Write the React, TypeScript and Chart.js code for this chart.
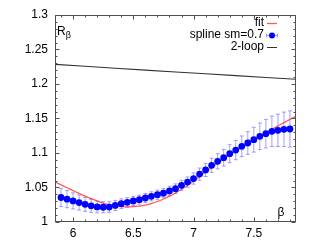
import React, { useEffect, useRef } from 'react';
import { Chart, registerables } from 'chart.js';

Chart.register(...registerables);

// ---- data ----
const splineBeta = [
  5.9, 5.95, 6.0, 6.05, 6.1, 6.15, 6.2, 6.25, 6.3, 6.35, 6.4, 6.45, 6.5, 6.55, 6.6, 6.65, 6.7, 6.75, 6.8, 6.85,
  6.9, 6.95, 7.0, 7.05, 7.1, 7.15, 7.2, 7.25, 7.3, 7.35, 7.4, 7.45, 7.5, 7.55, 7.6, 7.65, 7.7, 7.75, 7.8,
];
const splineR = [
  1.0355, 1.0331, 1.0306, 1.0282, 1.0256, 1.0234, 1.0219, 1.0214, 1.0217, 1.024, 1.0266, 1.0285, 1.0306, 1.0324,
  1.0348, 1.0372, 1.0396, 1.0418, 1.045, 1.0483, 1.0532, 1.0578, 1.063, 1.0694, 1.0754, 1.0821, 1.088, 1.0932,
  1.099, 1.1043, 1.1097, 1.1145, 1.1193, 1.1242, 1.128, 1.1314, 1.1329, 1.1343, 1.1348,
];
const splineErr = [
  0.013, 0.0124, 0.0117, 0.011, 0.0102, 0.0094, 0.0087, 0.0081, 0.0077, 0.0073, 0.007, 0.0068, 0.0066, 0.0066,
  0.0066, 0.0066, 0.0067, 0.0068, 0.0069, 0.007, 0.0072, 0.0075, 0.0082, 0.0088, 0.0095, 0.0102, 0.011, 0.012,
  0.013, 0.014, 0.015, 0.0165, 0.018, 0.0193, 0.0207, 0.022, 0.0235, 0.025, 0.0262,
];
const fitBeta = [
  5.85, 5.9, 5.95, 6.0, 6.05, 6.1, 6.15, 6.2, 6.25, 6.3, 6.35, 6.4, 6.45, 6.5, 6.55, 6.6, 6.65, 6.7, 6.75, 6.8,
  6.85, 6.9, 6.95, 7.0, 7.05, 7.1, 7.15, 7.2, 7.25, 7.3, 7.35, 7.4, 7.45, 7.5, 7.55, 7.6, 7.65, 7.7, 7.75, 7.8, 7.85,
];
const fitR = [
  1.0582, 1.0538, 1.0496, 1.0455, 1.0414, 1.0375, 1.0338, 1.0304, 1.0275, 1.0251, 1.0233, 1.0222, 1.0217, 1.0222,
  1.0231, 1.0246, 1.0268, 1.0297, 1.0333, 1.0374, 1.0421, 1.0474, 1.0532, 1.0594, 1.0659, 1.0725, 1.079, 1.0853,
  1.0914, 1.0972, 1.1028, 1.1082, 1.1135, 1.1188, 1.124, 1.1292, 1.1342, 1.1392, 1.144, 1.1487, 1.1533,
];
const loopBeta = [5.85, 6.35, 6.85, 7.35, 7.85];
const loopR = [1.2285, 1.2228, 1.2175, 1.2122, 1.2068];

const xTicks = [6, 6.5, 7, 7.5];
const xTickLabels = ['6', '6.5', '7', '7.5'];
const yTicks = [1, 1.05, 1.1, 1.15, 1.2, 1.25, 1.3];
const yTickLabels = ['1', '1.05', '1.1', '1.15', '1.2', '1.25', '1.3'];
const legendLabels = ['fit', 'spline sm=0.7', '2-loop'];

const FONT = '"Liberation Sans", Arial, Helvetica, sans-serif';
const ERR_COLOR = 'rgba(120,120,250,0.7)';
const POINT_COLOR = '#0000ff';
const FIT_COLOR = 'rgba(255,60,60,0.85)';
const LOOP_COLOR = '#333333';

const decor = {
  id: 'decor',
  beforeDatasetsDraw(chart: any) {
    const { ctx, scales } = chart;
    const x = scales.x;
    const y = scales.y;
    ctx.save();
    ctx.strokeStyle = ERR_COLOR;
    ctx.lineWidth = 1;
    splineBeta.forEach((b, i) => {
      const px = x.getPixelForValue(b);
      const y1 = y.getPixelForValue(splineR[i] + splineErr[i]);
      const y2 = y.getPixelForValue(splineR[i] - splineErr[i]);
      ctx.beginPath();
      ctx.moveTo(px, y1);
      ctx.lineTo(px, y2);
      ctx.moveTo(px - 2, y1);
      ctx.lineTo(px + 2, y1);
      ctx.moveTo(px - 2, y2);
      ctx.lineTo(px + 2, y2);
      ctx.stroke();
    });
    ctx.restore();
  },
  afterDatasetsDraw(chart: any) {
    const { ctx, chartArea, scales } = chart;
    const x = scales.x;
    const y = scales.y;
    const L = Math.round(chartArea.left) + 0.5;
    const R = Math.round(chartArea.right) - 0.5;
    const T = Math.round(chartArea.top) + 0.5;
    const B = Math.round(chartArea.bottom) - 0.5;
    ctx.save();
    ctx.strokeStyle = '#505050';
    ctx.lineWidth = 1;
    ctx.strokeRect(L, T, R - L, B - T);
    // ticks
    ctx.beginPath();
    for (let v = 5.9; v < 7.851; v += 0.1) {
      const px = Math.round(x.getPixelForValue(v)) + 0.5;
      const major = xTicks.some((t) => Math.abs(t - v) < 1e-6);
      const len = major ? 4 : 2;
      ctx.moveTo(px, B);
      ctx.lineTo(px, B - len);
      ctx.moveTo(px, T);
      ctx.lineTo(px, T + len);
    }
    for (let v = 1.0; v < 1.3001; v += 0.01) {
      const py = Math.round(y.getPixelForValue(v)) + 0.5;
      const major = yTicks.some((t) => Math.abs(t - v) < 1e-6);
      const len = major ? 4 : 2;
      ctx.moveTo(L, py);
      ctx.lineTo(L + len, py);
      ctx.moveTo(R, py);
      ctx.lineTo(R - len, py);
    }
    ctx.stroke();

    // legend
    ctx.font = '12px ' + FONT;
    ctx.fillStyle = '#000';
    ctx.textAlign = 'right';
    ctx.textBaseline = 'middle';
    const rows = [23, 35, 47];
    legendLabels.forEach((t, i) => ctx.fillText(t, 264, rows[i]));
    // fit sample
    ctx.strokeStyle = FIT_COLOR;
    ctx.lineWidth = 1.3;
    ctx.beginPath();
    ctx.moveTo(267, rows[0] + 0.5);
    ctx.lineTo(277, rows[0] + 0.5);
    ctx.stroke();
    // spline sample
    ctx.lineWidth = 1;
    ctx.strokeStyle = ERR_COLOR;
    ctx.beginPath();
    ctx.moveTo(266, rows[1] + 0.5);
    ctx.lineTo(278, rows[1] + 0.5);
    ctx.moveTo(266.5, rows[1] - 1.5);
    ctx.lineTo(266.5, rows[1] + 2.5);
    ctx.moveTo(277.5, rows[1] - 1.5);
    ctx.lineTo(277.5, rows[1] + 2.5);
    ctx.stroke();
    ctx.fillStyle = POINT_COLOR;
    ctx.beginPath();
    ctx.arc(272, rows[1] + 0.5, 3, 0, Math.PI * 2);
    ctx.fill();
    // 2-loop sample
    ctx.strokeStyle = LOOP_COLOR;
    ctx.beginPath();
    ctx.moveTo(267, rows[2] + 0.5);
    ctx.lineTo(277, rows[2] + 0.5);
    ctx.stroke();

    // axis labels inside
    ctx.fillStyle = '#000';
    ctx.textAlign = 'left';
    ctx.textBaseline = 'alphabetic';
    ctx.font = '12px ' + FONT;
    ctx.fillText('R', 57, 35);
    const rw = ctx.measureText('R').width;
    ctx.font = '9px ' + FONT;
    ctx.fillText('β', 57 + rw, 38);
    ctx.font = '12px ' + FONT;
    ctx.textAlign = 'center';
    ctx.fillText('β', 281, 216);
    ctx.restore();
  },
};

export default function App() {
  const ref = useRef<HTMLCanvasElement>(null);
  useEffect(() => {
    if (!ref.current) return;
    const chart = new Chart(ref.current, {
      type: 'scatter',
      data: {
        datasets: [
          {
            label: 'spline sm=0.7',
            data: splineBeta.map((b, i) => ({ x: b, y: splineR[i] })),
            backgroundColor: POINT_COLOR,
            borderColor: POINT_COLOR,
            pointRadius: 3.4,
            pointBorderWidth: 0,
            showLine: false,
            order: 0,
          },
          {
            label: 'fit',
            data: fitBeta.map((b, i) => ({ x: b, y: fitR[i] })),
            borderColor: FIT_COLOR,
            borderWidth: 1.3,
            pointRadius: 0,
            showLine: true,
            tension: 0.3,
            order: 1,
          },
          {
            label: '2-loop',
            data: loopBeta.map((b, i) => ({ x: b, y: loopR[i] })),
            borderColor: LOOP_COLOR,
            borderWidth: 1.1,
            pointRadius: 0,
            showLine: true,
            tension: 0.3,
            order: 2,
          },
        ],
      },
      options: {
        responsive: false,
        animation: false,
        layout: { padding: { top: 15, right: 20, left: 0, bottom: 0 } },
        plugins: { legend: { display: false }, tooltip: { enabled: false } },
        scales: {
          x: {
            type: 'linear',
            min: 5.85,
            max: 7.85,
            grid: { display: false, drawTicks: false },
            border: { display: false },
            afterBuildTicks: (s: any) => {
              s.ticks = xTicks.map((v) => ({ value: v }));
            },
            afterFit: (s: any) => {
              s.height = 24;
            },
            ticks: {
              padding: 4,
              color: '#000',
              font: { family: FONT, size: 12 },
              maxRotation: 0,
              callback: (v: any) => {
                const i = xTicks.findIndex((t) => Math.abs(t - v) < 1e-6);
                return i >= 0 ? xTickLabels[i] : '';
              },
            },
          },
          y: {
            type: 'linear',
            min: 1,
            max: 1.3,
            grid: { display: false, drawTicks: false },
            border: { display: false },
            afterBuildTicks: (s: any) => {
              s.ticks = yTicks.map((v) => ({ value: v }));
            },
            afterFit: (s: any) => {
              s.width = 55;
            },
            ticks: {
              padding: 7,
              color: '#000',
              font: { family: FONT, size: 12 },
              callback: (v: any) => {
                const i = yTicks.findIndex((t) => Math.abs(t - v) < 1e-6);
                return i >= 0 ? yTickLabels[i] : '';
              },
            },
          },
        },
      },
      plugins: [decor],
    });
    return () => chart.destroy();
  }, []);
  return (
    <div style={{ position: 'absolute', left: 0, top: 0, width: 316, height: 246, background: '#fff' }}>
      <canvas ref={ref} width={316} height={246} style={{ display: 'block', width: 316, height: 246 }} />
    </div>
  );
}
